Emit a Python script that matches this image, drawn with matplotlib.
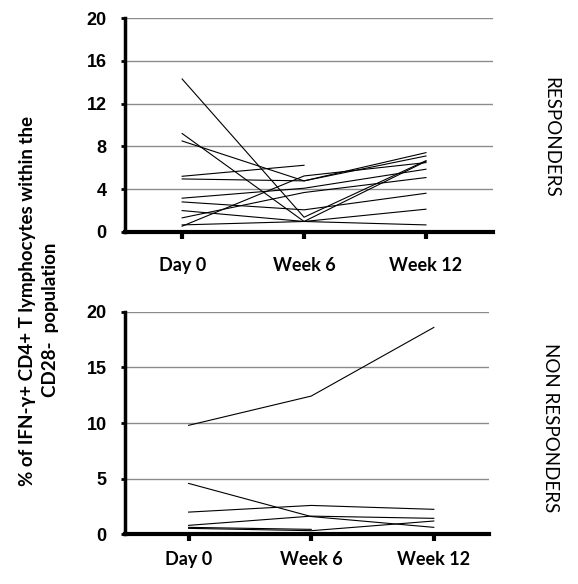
import numpy as np
import matplotlib
matplotlib.use('Agg')
import matplotlib.pyplot as plt

nan = np.nan

# categories
timepoints = ['Day 0', 'Week 6', 'Week 12']

# responders: one row per patient (Day 0, Week 6, Week 12)
resp_day0 = [14.3, 9.2, 8.5, 5.2, 4.95, 3.15, 2.8, 1.99, 1.31, 0.65, 0.53]
resp_week6 = [1.37, 0.97, 4.77, 6.23, 4.77, 4.08, 2.06, 0.97, 3.68, 0.97, 5.23]
resp_week12 = [6.66, 6.6, 7.1, nan, 7.41, 5.86, 3.61, 2.12, 5.08, 0.65, 6.48]

# non responders
nonresp_day0 = [9.8, 4.58, 2.0, 0.81, 0.63, 0.54]
nonresp_week6 = [12.43, 1.6, 2.6, 1.64, 0.45, 0.33]
nonresp_week12 = [18.6, 0.63, 2.25, 1.44, nan, 1.2]

resp_yticks = [0, 4, 8, 12, 16, 20]
nonresp_yticks = [0, 5, 10, 15, 20]

ylabel_line1 = '% of IFN-\u03b3+ CD4+ T lymphocytes within the'
ylabel_line2 = 'CD28-  population'

plt.rcParams['font.family'] = ['Lato', 'DejaVu Sans']

fig = plt.figure(figsize=(5.78, 5.84), dpi=100)
ax1 = fig.add_axes([0.216, 0.603, 0.637, 0.366])
ax2 = fig.add_axes([0.216, 0.085, 0.630, 0.381])

x = np.arange(len(timepoints))


def style_axis(ax, yticks, xlim, xpad):
    ax.set_ylim(0, 20)
    ax.set_xlim(*xlim)
    ax.set_yticks(yticks)
    ax.set_xticks(x)
    ax.set_xticklabels(timepoints, fontweight='bold', fontsize=13)
    for lab in ax.get_yticklabels():
        lab.set_fontfamily('Liberation Sans')
        lab.set_fontweight('bold')
        lab.set_fontsize(13)
    ax.yaxis.grid(True, color='#8c8c8c', linewidth=1)
    ax.set_axisbelow(True)
    for s in ['top', 'right']:
        ax.spines[s].set_visible(False)
    ax.spines['left'].set_linewidth(2.5)
    ax.spines['bottom'].set_linewidth(3)
    ax.tick_params(axis='y', length=3, width=2, pad=10)
    ax.tick_params(axis='x', direction='out', length=5, width=3, pad=xpad)


for i in range(len(resp_day0)):
    ax1.plot(x, [resp_day0[i], resp_week6[i], resp_week12[i]], color='black', linewidth=0.8)
for i in range(len(nonresp_day0)):
    ax2.plot(x, [nonresp_day0[i], nonresp_week6[i], nonresp_week12[i]], color='black', linewidth=0.8)

style_axis(ax1, resp_yticks, (-0.47, 2.55), 13)
style_axis(ax2, nonresp_yticks, (-0.52, 2.45), 7)

fig.text(0.048, 0.485, ylabel_line1, rotation=90, ha='center', va='center',
         fontsize=13.5, fontweight='bold')
fig.text(0.088, 0.452, ylabel_line2, rotation=90, ha='center', va='center',
         fontsize=13.5, fontweight='bold')
fig.text(0.952, 0.764, 'RESPONDERS', rotation=-90, ha='center', va='center', fontsize=13.5)
fig.text(0.952, 0.267, 'NON RESPONDERS', rotation=-90, ha='center', va='center', fontsize=13.5)

fig.savefig('out.png', dpi=100)
